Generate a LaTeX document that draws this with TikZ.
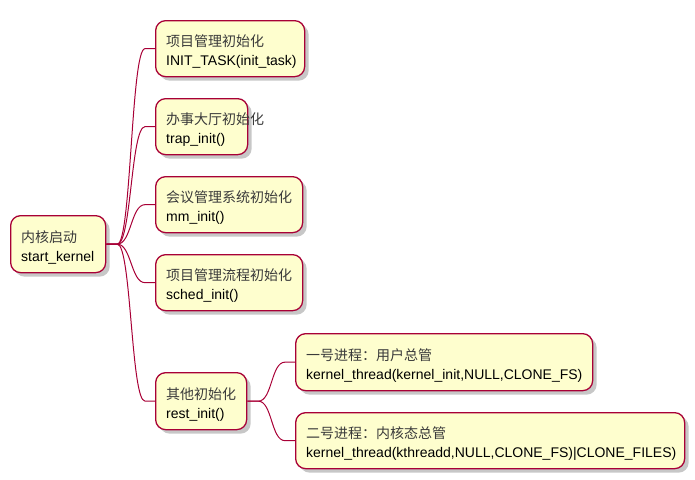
\documentclass[tikz,border=0pt]{standalone}
\usepackage{fontspec}
\setmainfont{Liberation Sans}
\newfontfamily\cjk{Noto Sans CJK SC}
\usetikzlibrary{shadows}
\definecolor{mmfill}{HTML}{FEFECE}
\definecolor{mmline}{HTML}{A80036}
\definecolor{cjkgray}{HTML}{3A3A3A}
\newcommand\zh[1]{{\cjk\color{cjkgray}#1}}
\tikzset{
  mmbox/.style={draw=mmline, fill=mmfill, line width=1.3pt, rounded corners=10pt,
    anchor=north west, inner sep=0pt,
    drop shadow={shadow xshift=4pt, shadow yshift=-4pt, fill=black, opacity=0.22}},
  mmtext/.style={anchor=west, align=left, inner sep=0pt,
    font=\fontsize{14}{19}\selectfont},
  mmedge/.style={draw=mmline, line width=1pt},
}
\newcommand\mmlink[2]{%
  \draw[mmedge] (#1.east) -- ([shift={(11,0)}]#1.east)
    .. controls ([shift={(25,0)}]#1.east) and ([shift={(-24,0)}]#2.west)
    .. ([shift={(-10,0)}]#2.west) -- (#2.west);}
\begin{document}
\begin{tikzpicture}[x=1pt,y=-1pt]
\useasboundingbox (0,0) rectangle (695,479);
% boxes
\node[mmbox, minimum width=95pt, minimum height=57pt] (root) at (10,215) {};
\node[mmbox, minimum width=149pt, minimum height=56pt] (n1) at (155,20) {};
\node[mmbox, minimum width=92pt, minimum height=56pt] (n2) at (155,98) {};
\node[mmbox, minimum width=147pt, minimum height=56pt] (n3) at (155,176) {};
\node[mmbox, minimum width=147pt, minimum height=56pt] (n4) at (155,254) {};
\node[mmbox, minimum width=91pt, minimum height=57pt] (n5) at (155,372) {};
\node[mmbox, minimum width=297pt, minimum height=57pt] (n6) at (295,333) {};
\node[mmbox, minimum width=389pt, minimum height=56pt] (n7) at (295,412) {};
% texts
\node[mmtext] (roott) at ([shift={(11,3)}]root.west) {\zh{内核启动}\\start\_kernel};
\node[mmtext] (n1t) at ([shift={(11,3)}]n1.west) {\zh{项目管理初始化}\\INIT\_TASK(init\_task)};
\node[mmtext] (n2t) at ([shift={(11,3)}]n2.west) {\zh{办事大厅初始化}\\trap\_init()};
\node[mmtext] (n3t) at ([shift={(11,3)}]n3.west) {\zh{会议管理系统初始化}\\mm\_init()};
\node[mmtext] (n4t) at ([shift={(11,3)}]n4.west) {\zh{项目管理流程初始化}\\sched\_init()};
\node[mmtext] (n5t) at ([shift={(11,3)}]n5.west) {\zh{其他初始化}\\rest\_init()};
\node[mmtext] (n6t) at ([shift={(11,3)}]n6.west) {\zh{一号进程：用户总管}\\kernel\_thread(kernel\_init,NULL,CLONE\_FS)};
\node[mmtext] (n7t) at ([shift={(11,3)}]n7.west) {\zh{二号进程：内核态总管}\\kernel\_thread(kthreadd,NULL,CLONE\_FS)|CLONE\_FILES)};
% edges
\mmlink{root}{n1}
\mmlink{root}{n2}
\mmlink{root}{n3}
\mmlink{root}{n4}
\mmlink{root}{n5}
\mmlink{n5}{n6}
\mmlink{n5}{n7}
\end{tikzpicture}
\end{document}
